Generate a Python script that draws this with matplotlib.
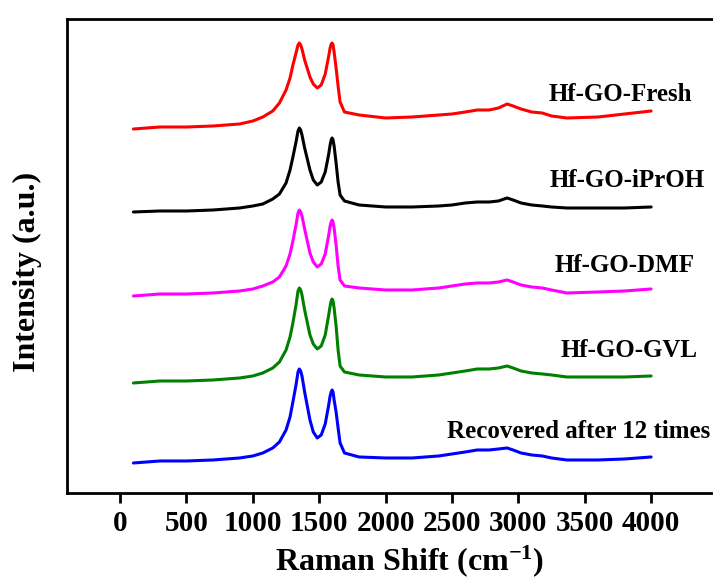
import matplotlib
matplotlib.use("Agg")
import matplotlib.pyplot as plt

plt.rcParams["font.family"] = ["Liberation Serif", "DejaVu Serif"]
plt.rcParams["font.weight"] = "bold"
plt.rcParams["mathtext.fontset"] = "custom"
plt.rcParams["mathtext.rm"] = "Liberation Serif:bold"
plt.rcParams["mathtext.bf"] = "Liberation Serif:bold"
plt.rcParams["mathtext.default"] = "bf"

# Raman shift sampling positions (cm^-1)
shift = [100, 300, 500, 700, 900, 1000, 1075, 1150, 1200, 1250, 1280, 1300,
         1325, 1340, 1350, 1360, 1370, 1390, 1430, 1455, 1485, 1515, 1545,
         1570, 1582, 1590, 1597, 1604, 1612, 1627, 1642, 1657, 1690, 1800,
         2000, 2200, 2400, 2500, 2600, 2690, 2780, 2850, 2915, 2960, 3020,
         3100, 3180, 3250, 3365, 3600, 3800, 4000]

# Stacked intensities (a.u., offset per sample)
fresh = [364, 366, 366, 367, 369, 372, 376, 382, 390, 403, 415, 427, 440, 448,
         450, 448, 444, 433, 416, 409, 405, 408, 419, 436, 445, 449, 450, 448,
         441, 425, 407, 391, 381, 378, 375, 376, 378, 379, 381, 383, 383, 385,
         389, 387, 384, 381, 380, 377, 375, 376, 379, 382]
iproh = [281, 282, 282, 283, 285, 287, 289, 294, 299, 310, 323, 335, 351, 362,
         365, 363, 358, 345, 323, 313, 308, 311, 321, 338, 348, 353, 355, 353,
         347, 330, 311, 298, 292, 288, 286, 286, 287, 288, 290, 291, 291, 292,
         295, 293, 290, 288, 287, 286, 285, 285, 285, 286]
dmf = [197, 199, 199, 200, 202, 204, 207, 211, 216, 227, 239, 251, 268, 280,
       283, 281, 277, 264, 240, 231, 226, 229, 239, 257, 267, 271, 273, 271,
       265, 248, 227, 213, 207, 205, 203, 203, 205, 207, 209, 210, 210, 211,
       213, 211, 208, 206, 205, 203, 200, 201, 202, 204]
gvl = [110, 112, 112, 113, 115, 117, 120, 125, 131, 143, 156, 169, 188, 202,
       205, 203, 198, 183, 158, 149, 144, 147, 158, 177, 187, 192, 194, 192,
       185, 167, 143, 127, 121, 118, 116, 116, 118, 120, 122, 124, 124, 125,
       127, 125, 122, 120, 119, 118, 116, 116, 116, 117]
recovered = [30, 32, 32, 33, 35, 37, 40, 45, 51, 63, 76, 90, 108, 121, 124,
             122, 117, 101, 73, 61, 55, 58, 69, 87, 97, 101, 103, 101, 93, 81,
             65, 50, 40, 36, 35, 35, 37, 39, 41, 43, 43, 44, 45, 43, 40, 38,
             37, 35, 33, 33, 34, 36]

labels = ["Hf-GO-Fresh", "Hf-GO-iPrOH", "Hf-GO-DMF", "Hf-GO-GVL",
          "Recovered after 12 times"]
series = [fresh, iproh, dmf, gvl, recovered]
colors = ["#ff0000", "#000000", "#ff00ff", "#008000", "#0000ff"]
xticks = [0, 500, 1000, 1500, 2000, 2500, 3000, 3500, 4000]

# label anchor (right edge x, baseline y) in data units
label_pos = [(4309, 392), (4407, 306), (4331, 221), (4354, 136), (4444, 55)]

fig = plt.figure(figsize=(7.13, 5.81), dpi=100)
ax = fig.add_axes([0.094, 0.1515, 0.9123, 0.8158])

for y, c in zip(series, colors):
    ax.plot(shift, y, color=c, lw=2.2, solid_joinstyle="round",
            solid_capstyle="round")

for text, (lx, ly) in zip(labels, label_pos):
    ax.text(lx, ly, text, ha="right", va="baseline", fontsize=18,
            fontweight="bold")

ax.set_xlim(-400, 4500)
ax.set_ylim(0, 474)
ax.set_xticks(xticks)
ax.set_xticklabels([str(t) for t in xticks])
ax.set_yticks([])
ax.tick_params(axis="x", direction="out", length=7, width=2, pad=5,
               labelsize=21, top=False)
for lbl in ax.get_xticklabels():
    lbl.set_fontweight("bold")
for s in ax.spines.values():
    s.set_linewidth(2)

fig.text(410 / 713, 1 - 570 / 581, r"Raman Shift (cm$^{-1}$)", ha="center",
         va="baseline", fontsize=23, fontweight="bold")
fig.text(27 / 713, 1 - 272 / 581, "Intensity (a.u.)", ha="center",
         va="center", rotation=90, fontsize=23, fontweight="bold")

fig.savefig("out.png", dpi=100)
